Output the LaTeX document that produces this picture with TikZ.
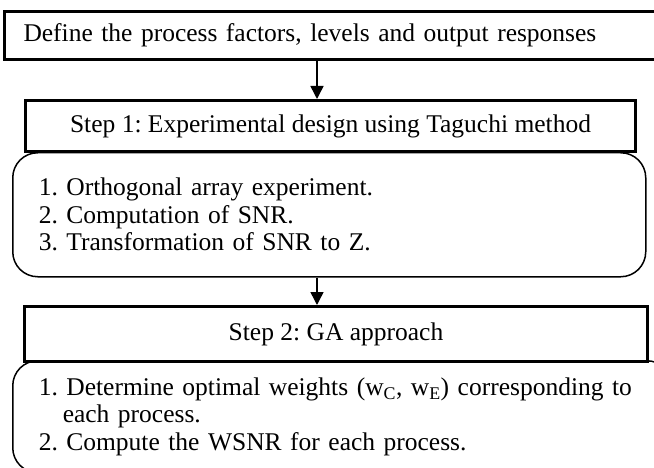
\documentclass[tikz,border=0pt]{standalone}
\usepackage{fontspec}
\setmainfont{Liberation Serif}
\frenchspacing
\usetikzlibrary{arrows.meta}
\tikzset{
  box/.style={draw, line width=3pt, inner sep=0pt, anchor=north west},
  roundbox/.style={draw, line width=1.5pt, rounded corners=25pt, anchor=north west, align=left, inner xsep=26pt},
  flow/.style={line width=1.5pt, -{Triangle[length=13pt,width=13pt]}},
}
\begin{document}
\begin{tikzpicture}[x=1pt,y=1pt,font=\fontsize{25.5}{27.5}\selectfont]
\useasboundingbox (0,0) rectangle (654,-468);
\coordinate (ax) at (317,0);
% start
\node[box, minimum width=680pt, minimum height=48pt, text width=642pt, inner xsep=19pt, align=left] (define) at (3,-10) {Define the process factors, levels and output responses};
% step 1
\node[box, minimum width=610pt, minimum height=51pt] (step1) at (24,-99) {Step 1: Experimental design using Taguchi method};
\node[roundbox, minimum width=633pt, minimum height=124pt, text width=581pt] (list1) at (12,-152) {1. Orthogonal array experiment.\\2. Computation of SNR.\\3. Transformation of SNR to Z.};
\draw[flow] (define.south -| ax) -- (step1.north -| ax);
% step 2
\node[box, minimum width=623pt, minimum height=55pt] (step2) at (23,-305) {Step 2: GA approach};
\node[roundbox, minimum width=659pt, minimum height=112pt, text width=607pt] (list2) at (12,-360) {1. Determine optimal weights (w\textsubscript{C}, w\textsubscript{E}) corresponding to\\\hspace*{24pt}each process.\\2. Compute the WSNR for each process.};
\draw[flow] (list1.south -| ax) -- (step2.north -| ax);
\end{tikzpicture}
\end{document}
